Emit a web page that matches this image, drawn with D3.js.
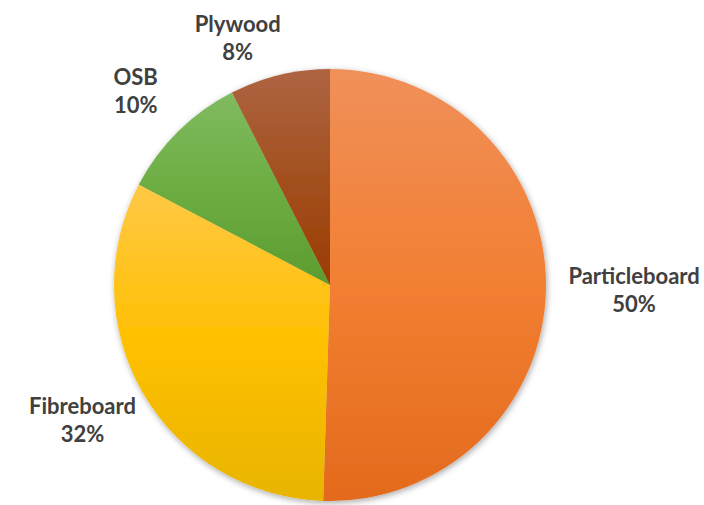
<!DOCTYPE html>
<html>
<head>
<meta charset="utf-8">
<script src="https://cdn.jsdelivr.net/npm/d3@7"></script>
<style>
  body { margin: 0; background: #fff; }
  svg { display: block; }
</style>
</head>
<body>
<svg id="chart" width="704" height="505"></svg>
<script>
// data (labels are rounded in the chart)
var categories = ['Particleboard', 'Fibreboard', 'OSB', 'Plywood'];
var shares = [50.5, 32.2, 9.8, 7.5];
var labelPct = ['50%', '32%', '10%', '8%'];
var topColors = ['#F0905A', '#FFC846', '#80BB60', '#AE6442'];
var midColors = ['#F27F32', '#FFC000', '#6CAD42', '#A3501F'];
var botColors = ['#E36A1C', '#E8B400', '#5C9C30', '#9A3C02'];

var svg = d3.select('#chart');
var width = 704, height = 505;
var cx = 330, cy = 285, r = 216;

// best-fit tweaks for the label boxes, like the original chart does
// (same order as categories)
var labelNudge = [[8, 0], [3, -12], [-8, -6], [-30, 12]];

var defs = svg.append('defs');

var shadow = defs.append('filter')
    .attr('id', 'shadow')
    .attr('x', '-10%').attr('y', '-10%')
    .attr('width', '120%').attr('height', '120%');
shadow.append('feDropShadow')
    .attr('dx', 1).attr('dy', 2)
    .attr('stdDeviation', 3)
    .attr('flood-color', '#000')
    .attr('flood-opacity', 0.35);

categories.forEach(function(c, i) {
    var g = defs.append('linearGradient')
        .attr('id', 'grad' + i)
        .attr('x1', 0).attr('y1', 0).attr('x2', 0).attr('y2', 1);
    g.append('stop').attr('offset', '0%').attr('stop-color', topColors[i]);
    g.append('stop').attr('offset', '50%').attr('stop-color', midColors[i]);
    g.append('stop').attr('offset', '100%').attr('stop-color', botColors[i]);
});

var pie = d3.pie().sort(null).value(function(d) { return d; });
var arcs = pie(shares);

var arc = d3.arc().innerRadius(0).outerRadius(r);

var plot = svg.append('g').attr('transform', 'translate(' + cx + ',' + cy + ')');

plot.append('g')
    .attr('filter', 'url(#shadow)')
    .selectAll('path')
    .data(arcs)
    .enter().append('path')
    .attr('d', arc)
    .attr('fill', function(d, i) { return 'url(#grad' + i + ')'; });

// labels outside end, pushed out so the text box clears the pie
var fontSize = 22, lineH = 28;
var labels = plot.append('g')
    .attr('font-family', 'Lato, "Open Sans", sans-serif')
    .attr('font-weight', 'bold')
    .attr('font-size', fontSize)
    .attr('fill', '#404040')
    .attr('text-anchor', 'middle');

arcs.forEach(function(d, i) {
    var t = labels.append('text');
    t.append('tspan').attr('x', 0).attr('dy', 0).text(categories[i]);
    t.append('tspan').attr('x', 0).attr('dy', lineH).text(labelPct[i]);

    var bb = t.node().getBBox();
    var a = (d.startAngle + d.endAngle) / 2;
    var ux = Math.sin(a), uy = -Math.cos(a);
    var dist = r + 14 + Math.abs(ux) * bb.width / 2 + Math.abs(uy) * bb.height / 2;
    var px = ux * dist + labelNudge[i][0], py = uy * dist + labelNudge[i][1];
    // shift so the text box centre sits at (px, py)
    var ox = px - (bb.x + bb.width / 2);
    var oy = py - (bb.y + bb.height / 2);
    t.attr('transform', 'translate(' + ox + ',' + oy + ')');
});
</script>
</body>
</html>
